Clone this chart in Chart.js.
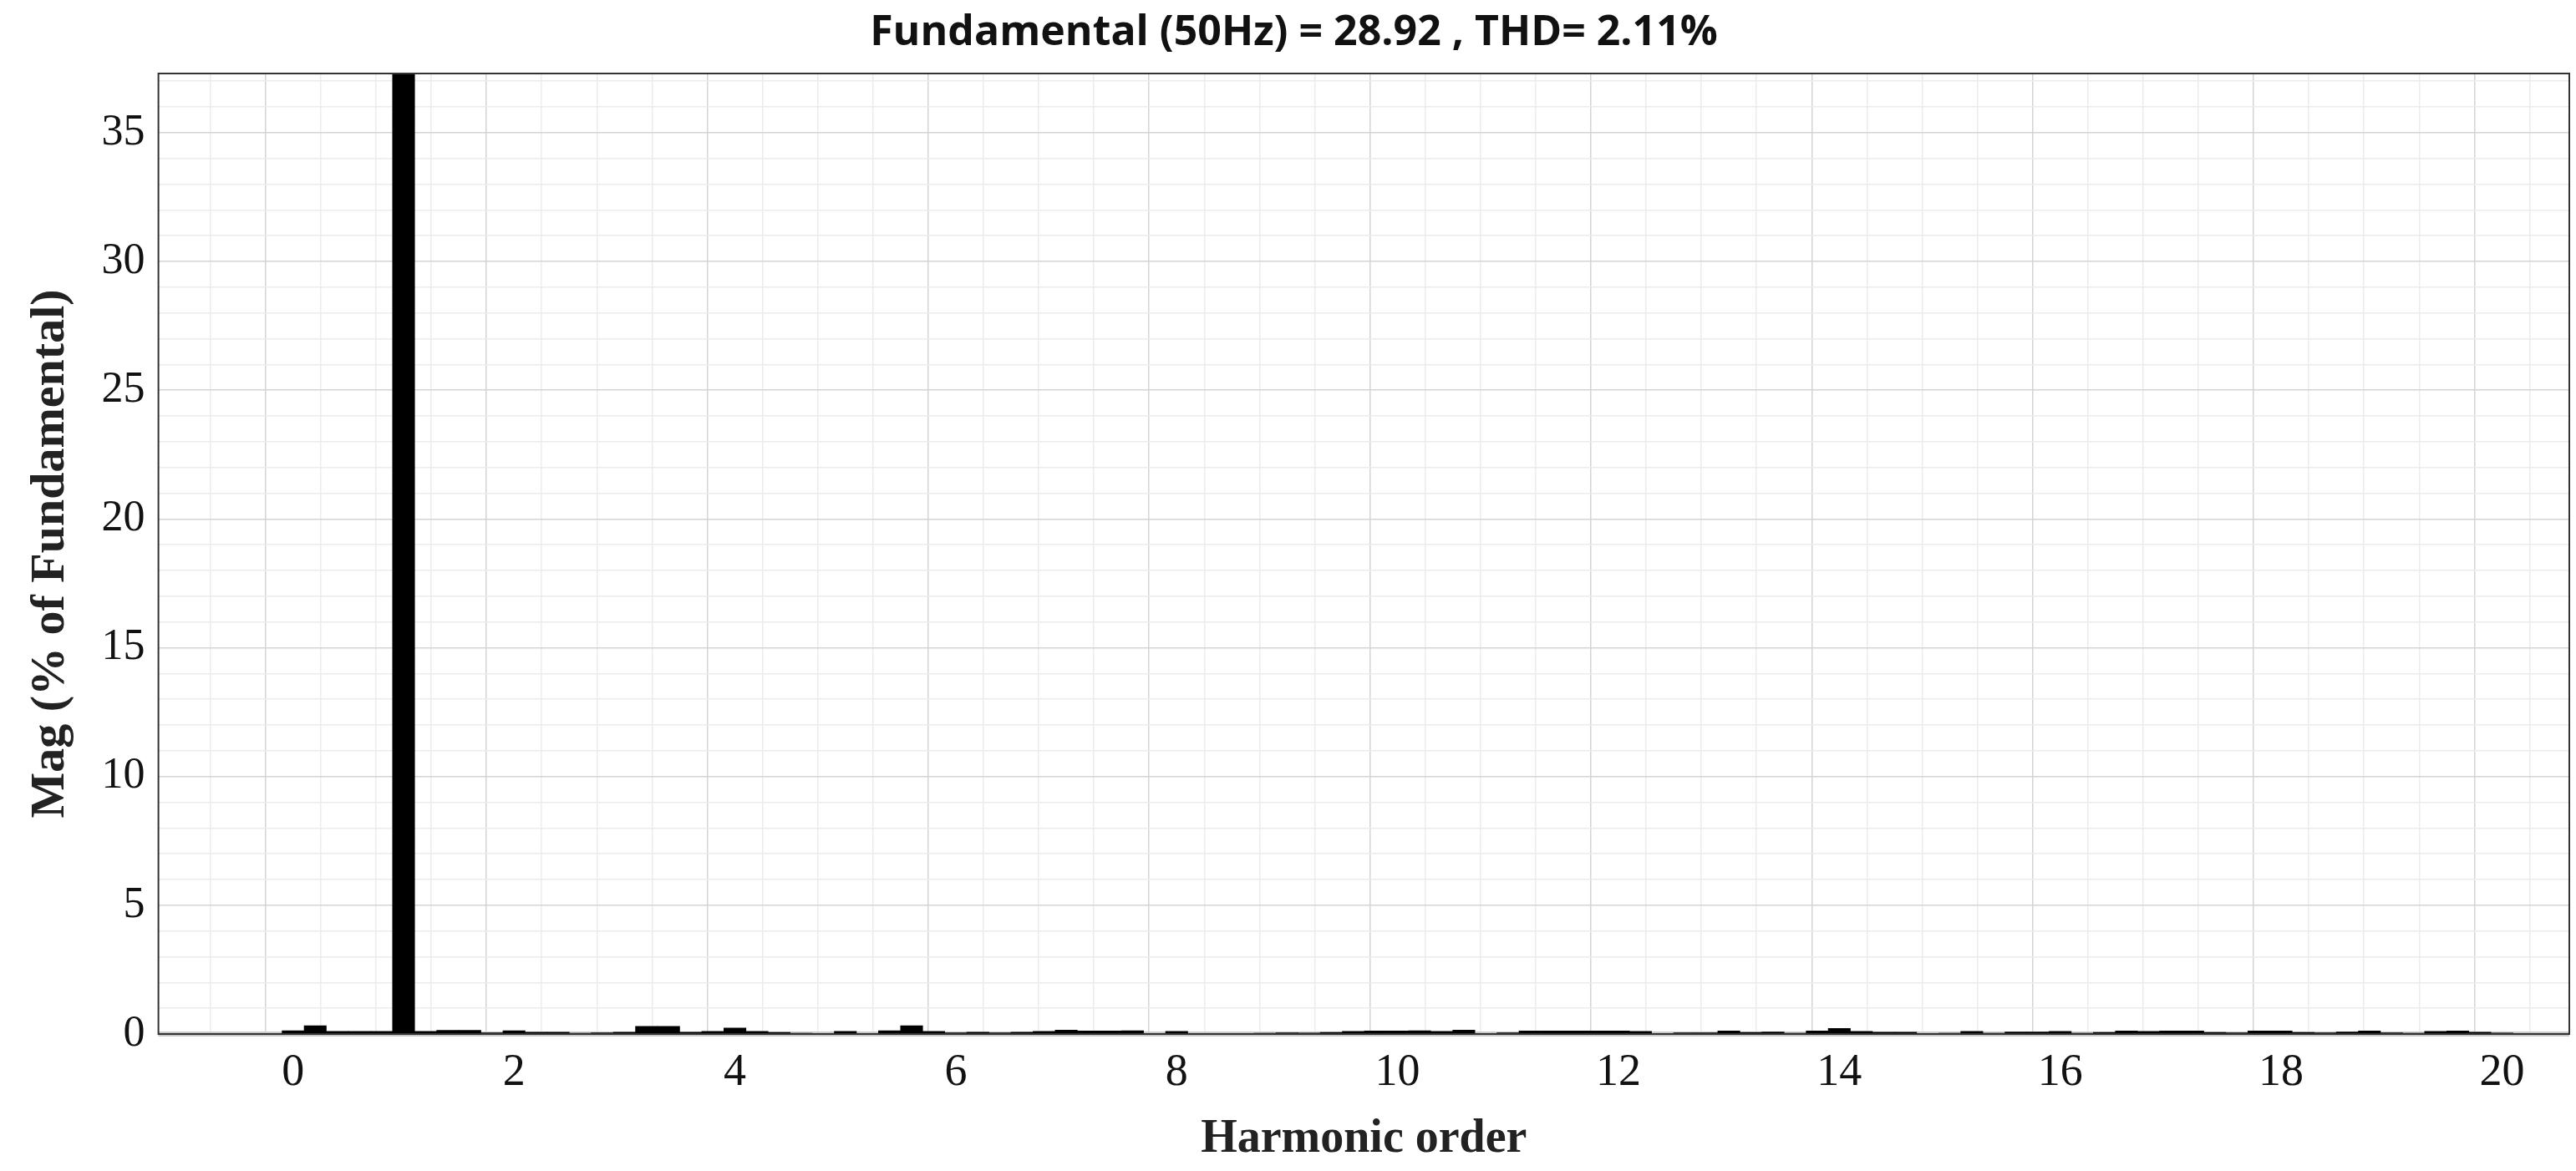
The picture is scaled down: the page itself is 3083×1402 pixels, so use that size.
<!DOCTYPE html>
<html><head><meta charset="utf-8">
<script src="https://cdn.jsdelivr.net/npm/chart.js@4"></script>
<style>html,body{margin:0;padding:0;background:#fff}#w{width:3083px;height:1402px}</style>
</head><body><div id="w"><canvas id="c"></canvas></div>
<script>
const titleText = "Fundamental (50Hz) = 28.92 , THD= 2.11%";
const xLabel = "Harmonic order";
const yLabel = "Mag (% of Fundamental)";
const harmonicOrder = [0,0.2,0.4,0.6,0.8,1,1.2,1.4,1.6,1.8,2,2.2,2.4,2.6,2.8,3,3.2,3.4,3.6,3.8,4,4.2,4.4,4.6,4.8,5,5.2,5.4,5.6,5.8,6,6.2,6.4,6.6,6.8,7,7.2,7.4,7.6,7.8,8,8.2,8.4,8.6,8.8,9,9.2,9.4,9.6,9.8,10,10.2,10.4,10.6,10.8,11,11.2,11.4,11.6,11.8,12,12.2,12.4,12.6,12.8,13,13.2,13.4,13.6,13.8,14,14.2,14.4,14.6,14.8,15,15.2,15.4,15.6,15.8,16,16.2,16.4,16.6,16.8,17,17.2,17.4,17.6,17.8,18,18.2,18.4,18.6,18.8,19,19.2,19.4,19.6,19.8,20];
const magnitude = [0.13,0.32,0.1,0.1,0.1,100,0.1,0.14,0.14,0.05,0.13,0.07,0.07,0.03,0.05,0.07,0.3,0.3,0.07,0.1,0.23,0.1,0.06,0.03,0.02,0.1,0.02,0.13,0.32,0.1,0.05,0.07,0.05,0.07,0.1,0.15,0.12,0.12,0.13,0.02,0.1,0.01,0.01,0.01,0.03,0.05,0.04,0.06,0.1,0.12,0.12,0.13,0.1,0.15,0.01,0.05,0.12,0.12,0.12,0.12,0.12,0.1,0.01,0.05,0.05,0.12,0.06,0.08,0.03,0.12,0.22,0.1,0.07,0.07,0.02,0.03,0.1,0.03,0.08,0.08,0.1,0.03,0.06,0.12,0.1,0.12,0.12,0.06,0.05,0.12,0.12,0.06,0.05,0.08,0.12,0.05,0.03,0.1,0.12,0.07,0.04];
const xMajorLabels = [0,2,4,6,8,10,12,14,16,18,20];
const yMajorLabels = [0,5,10,15,20,25,30,35];

const frame = {id:'frame',
 beforeDatasetsDraw(ch){const a=ch.chartArea,c=ch.ctx,y0=ch.scales.y.getPixelForValue(0);c.save();c.strokeStyle='#c8c8c8';c.lineWidth=6;c.beginPath();c.moveTo(a.left,y0);c.lineTo(a.right,y0);c.stroke();c.restore();},
 afterDraw(ch){const a=ch.chartArea,c=ch.ctx;c.save();c.strokeStyle='#333';c.lineWidth=2;c.strokeRect(a.left,a.top,a.right-a.left,a.bottom-a.top);c.restore();}};
new Chart(document.getElementById('c'),{
 type:'bar',
 data:{datasets:[{data:harmonicOrder.map((x,i)=>({x,y:magnitude[i]})),backgroundColor:'#000',borderWidth:0,barPercentage:1,categoryPercentage:1}]},
 options:{responsive:true,maintainAspectRatio:false,animation:false,
  layout:{padding:{left:22,right:8,top:4,bottom:4}},
  plugins:{legend:{display:false},tooltip:{enabled:false},
   title:{display:true,text:titleText,color:'#111',font:{family:'Open Sans',weight:'bold',size:50},padding:{top:6,bottom:18}}},
  scales:{
   x:{type:'linear',min:-0.96,max:20.35,
    afterBuildTicks(s){const t=[];for(let v=-0.5;v<=20.01;v+=0.5)t.push({value:+v.toFixed(1)});s.ticks=t;},
    ticks:{autoSkip:false,maxRotation:0,color:'#111',padding:14,font:{family:'Liberation Serif',size:54},
     callback:v=>xMajorLabels.includes(v)?String(v):''},
    grid:{color:c=>(c.tick&&xMajorLabels.includes(c.tick.value))?'#d4d4d4':'#ececec',lineWidth:1.5,drawTicks:false},
    border:{display:false},
    title:{display:true,text:xLabel,color:'#222',font:{family:'Liberation Serif',weight:'bold',size:56},padding:{top:0,bottom:0}}},
   y:{min:0,max:37.3,
    afterBuildTicks(s){const t=[];for(let v=0;v<=37;v++)t.push({value:v});s.ticks=t;},
    ticks:{autoSkip:false,color:'#111',padding:16,font:{family:'Liberation Serif',size:52},
     callback:v=>yMajorLabels.includes(v)?String(v):''},
    grid:{color:c=>(c.tick&&c.tick.value%5===0)?'#d4d4d4':'#ececec',lineWidth:1.5,drawTicks:false},
    border:{display:false},
    title:{display:true,text:yLabel,color:'#222',font:{family:'Liberation Serif',weight:'bold',size:58},padding:{bottom:10}}}
  }},
 plugins:[frame]
});
</script></body></html>
